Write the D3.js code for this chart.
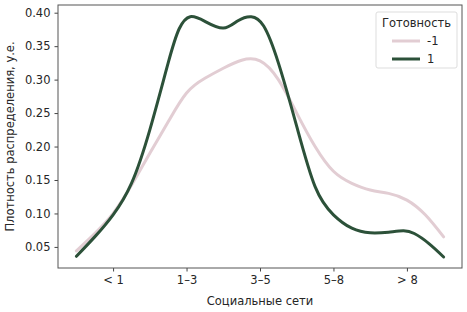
<!DOCTYPE html>
<html>
<head>
<meta charset="utf-8">
<script src="https://cdn.jsdelivr.net/npm/d3@7"></script>
<style>
  body { margin: 0; background: #fff; }
  text { font-family: "DejaVu Sans", sans-serif; fill: #262626; }
</style>
</head>
<body>
<svg id="chart"></svg>
<script>
const categories = ["< 1", "1\u20133", "3\u20135", "5\u20138", "> 8"];
const yTicks = [0.05, 0.10, 0.15, 0.20, 0.25, 0.30, 0.35, 0.40];

// density samples (x in category units)
const negX = [-0.5, -0.25, 0, 0.25, 0.5, 0.75, 1.0, 1.25, 1.5, 1.75, 2.0, 2.25, 2.5, 2.75, 3.0, 3.25, 3.5, 3.75, 4.0, 4.25, 4.5];
const negY = [0.044, 0.07, 0.10, 0.142, 0.19, 0.237, 0.28, 0.302, 0.317, 0.329, 0.328, 0.30, 0.25, 0.20, 0.163, 0.145, 0.135, 0.13, 0.12, 0.098, 0.065];
const posX = [-0.5, -0.25, 0, 0.25, 0.5, 0.75, 0.9, 1.05, 1.25, 1.5, 1.7, 1.88, 2.05, 2.25, 2.5, 2.75, 3.0, 3.25, 3.5, 3.75, 3.95, 4.1, 4.3, 4.5];
const posY = [0.036, 0.065, 0.098, 0.145, 0.225, 0.325, 0.376, 0.394, 0.387, 0.377, 0.388, 0.394, 0.38, 0.325, 0.23, 0.14, 0.098, 0.078, 0.071, 0.072, 0.074, 0.07, 0.055, 0.035];

const seriesNames = ["-1", "1"];
const seriesColors = ["#e2cdd3", "#2c5139"];

const WIDTH = 467, HEIGHT = 312;
const LEFT = 58, RIGHT = 462, TOP = 5, BOTTOM = 268;
const FONT = 11.5;

const svg = d3.select("#chart").attr("width", WIDTH).attr("height", HEIGHT);

const x = d3.scaleLinear().domain([-0.75, 4.75]).range([LEFT, RIGHT]);
const y = d3.scaleLinear().domain([0.0185, 0.4115]).range([BOTTOM, TOP]);

const series = [
  negX.map((v, i) => [v, negY[i]]),
  posX.map((v, i) => [v, posY[i]])
];

const line = d3.line()
  .x(d => x(d[0]))
  .y(d => y(d[1]))
  .curve(d3.curveNatural);

svg.selectAll(".kde")
  .data(series)
  .join("path")
  .attr("class", "kde")
  .attr("fill", "none")
  .attr("stroke", (_, i) => seriesColors[i])
  .attr("stroke-width", 3)
  .attr("stroke-linecap", "round")
  .attr("d", line);

// axes
const xAxis = svg.append("g")
  .attr("transform", `translate(0,${BOTTOM})`)
  .call(d3.axisBottom(x).tickValues(d3.range(categories.length)).tickFormat(i => categories[i]).tickSizeOuter(0).tickSize(3.5).tickPadding(4.5));
const yAxis = svg.append("g")
  .attr("transform", `translate(${LEFT},0)`)
  .call(d3.axisLeft(y).tickValues(yTicks).tickFormat(d3.format(".2f")).tickSizeOuter(0).tickSize(3.5).tickPadding(4));

[xAxis, yAxis].forEach(g => {
  g.select(".domain").remove();
  g.selectAll(".tick line").attr("stroke", "#444");
  g.selectAll(".tick text").attr("font-size", FONT).attr("fill", "#262626");
});

svg.append("rect")
  .attr("x", LEFT).attr("y", TOP)
  .attr("width", RIGHT - LEFT).attr("height", BOTTOM - TOP)
  .attr("fill", "none").attr("stroke", "#555").attr("stroke-width", 1);

svg.append("text")
  .attr("x", (LEFT + RIGHT) / 2).attr("y", 305)
  .attr("text-anchor", "middle").attr("font-size", FONT)
  .text("Социальные сети");

svg.append("text")
  .attr("transform", `translate(14,${(TOP + BOTTOM) / 2}) rotate(-90)`)
  .attr("text-anchor", "middle").attr("font-size", FONT)
  .text("Плотность распределения, у.е.");

// legend
const legend = svg.append("g").attr("transform", "translate(376,12)");
legend.append("rect")
  .attr("width", 81).attr("height", 56).attr("rx", 2)
  .attr("fill", "#fff").attr("stroke", "#ddd");
legend.append("text")
  .attr("x", 40.5).attr("y", 15).attr("text-anchor", "middle").attr("font-size", FONT)
  .text("Готовность");
seriesNames.forEach((name, i) => {
  const ly = 29 + i * 18;
  legend.append("line")
    .attr("x1", 16).attr("x2", 44).attr("y1", ly).attr("y2", ly)
    .attr("stroke", seriesColors[i]).attr("stroke-width", 3);
  legend.append("text")
    .attr("x", 51).attr("y", ly + 4).attr("font-size", FONT)
    .text(name);
});
</script>
</body>
</html>
